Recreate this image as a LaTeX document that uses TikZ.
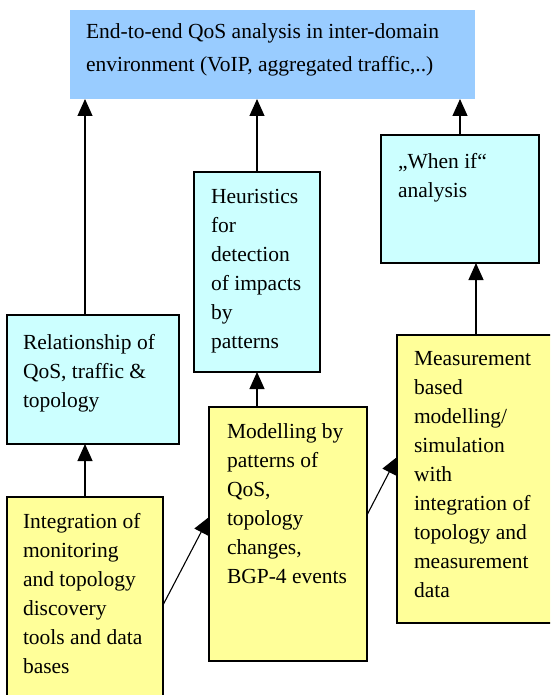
\documentclass[tikz,border=0pt]{standalone}
\usepackage{fontspec}
\setmainfont{Liberation Serif}
\usetikzlibrary{arrows.meta,calc}
\definecolor{topblue}{HTML}{99CCFF}
\definecolor{cyanbox}{HTML}{CCFFFF}
\definecolor{yellowbox}{HTML}{FFFF99}
\newcommand{\boxtext}[2]{\parbox[t]{#1}{\fontsize{21.5}{29}\selectfont #2}}
\begin{document}
\begin{tikzpicture}[x=1pt,y=-1pt,
  boxbase/.style={rectangle,anchor=north west,inner sep=0pt,outer sep=0pt,line width=1.1pt},
  cbox/.style={boxbase,draw=black,fill=cyanbox},
  ybox/.style={boxbase,draw=black,fill=yellowbox},
  tbox/.style={boxbase,fill=topblue},
  txt/.style={anchor=base west,inner sep=0pt,outer sep=0pt,align=left},
  arr/.style={line width=1.1pt,-{Triangle[length=17pt,width=15pt]}}]
\useasboundingbox (0,0) rectangle (550,695);
\clip (0,0) rectangle (550,695);
\fill[white] (0,0) rectangle (550,695);
% boxes
\node[tbox,minimum width=405pt,minimum height=89pt] (top) at (70,10) {};
\node[cbox,minimum width=172pt,minimum height=129pt] (rel) at (7,315) {};
\node[cbox,minimum width=126pt,minimum height=200pt] (heur) at (194,172) {};
\node[cbox,minimum width=158pt,minimum height=128pt] (when) at (381,135) {};
\node[ybox,minimum width=156pt,minimum height=216pt] (int) at (7,497) {};
\node[ybox,minimum width=158pt,minimum height=254pt] (mod) at (209,407) {};
\node[ybox,minimum width=158pt,minimum height=288pt] (meas) at (397,335) {};
% texts
\node[txt] (toptxt) at ($(top.north west)+(16,29)$) {\parbox[t]{400pt}{\fontsize{21.5}{33}\selectfont End-to-end QoS analysis in inter-domain\\environment (VoIP, aggregated traffic,..)}};
\node[txt] (reltxt) at ($(rel.north west)+(16,34)$) {\boxtext{200pt}{Relationship of\\QoS, traffic \&\\topology}};
\node[txt] (heurtxt) at ($(heur.north west)+(17,31)$) {\boxtext{200pt}{Heuristics\\for\\detection\\of impacts\\by\\patterns}};
\node[txt] (whentxt) at ($(when.north west)+(17,33)$) {\boxtext{200pt}{„When if“\\analysis}};
\node[txt] (inttxt) at ($(int.north west)+(16,31)$) {\boxtext{200pt}{Integration of\\monitoring\\and topology\\discovery\\tools and data\\bases}};
\node[txt] (modtxt) at ($(mod.north west)+(18,31)$) {\boxtext{200pt}{Modelling by\\patterns of\\QoS,\\topology\\changes,\\BGP-4 events}};
\node[txt] (meastxt) at ($(meas.north west)+(17,30)$) {\boxtext{200pt}{Measurement\\based\\modelling/\\simulation\\with\\integration of\\topology and\\measurement\\data}};
% connectors
\draw[arr] (int.north) -- (int.north |- rel.south);
\draw[arr] (int.north |- rel.north) -- (int.north |- top.south);
\draw[arr] (heur.north) -- (heur.north |- top.south);
\draw[arr] (when.north) -- (when.north |- top.south);
\draw[arr] (heur.south |- mod.north) -- (heur.south);
\draw[arr] (meas.north) -- (meas.north |- when.south);
\coordinate (modin) at ($(mod.west)+(0,-17)$);
\draw[arr] (int.east) -- (modin);
\coordinate (modout) at ($(mod.east)+(0,-19)$);
\coordinate (measin) at ($(meas.west)+(0,-22)$);
\draw[arr] (modout) -- (measin);
\end{tikzpicture}
\end{document}
